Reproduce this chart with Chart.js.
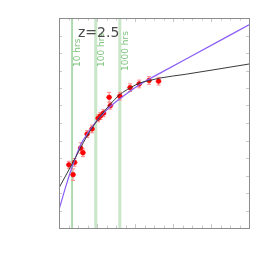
<!DOCTYPE html>
<html>
<head>
<meta charset="utf-8">
<script src="https://cdn.jsdelivr.net/npm/chart.js@4/dist/chart.umd.min.js"></script>
<style>
    html, body { margin: 0; padding: 0; background: #fff; }
    #chart { display: block; }
</style>
</head>
<body>
<canvas id="chart" width="266" height="266"></canvas>
<script>
// measured points with vertical errors
const ptX = [0.26, 0.37, 0.41, 0.57, 0.63, 0.74, 0.87, 1.03, 1.09, 1.17, 1.32, 1.35, 1.60, 1.87, 2.11, 2.37, 2.62];
const ptY = [3.61, 3.05, 3.75, 4.57, 4.30, 5.37, 5.66, 6.27, 6.40, 6.56, 7.47, 6.99, 7.53, 8.02, 8.23, 8.43, 8.39];
const ptErr = [0.2, 0.33, 0.22, 0.3, 0.22, 0.2, 0.22, 0.2, 0.2, 0.2, 0.28, 0.2, 0.22, 0.22, 0.22, 0.22, 0.22];

// black model curve
const blackX = [0, 0.335, 0.75, 1.055, 1.34, 1.6, 1.87, 2.13, 2.39, 2.66, 3.32, 5];
const blackY = [2.29, 3.62, 5.3, 6.29, 7.05, 7.62, 8.0, 8.29, 8.43, 8.57, 8.78, 9.37];

// purple model curve
const purpleX = [0, 0.18, 0.335, 0.57, 0.79, 1.055, 1.36, 1.6, 1.87, 2.13, 2.39, 2.66, 3.32, 5];
const purpleY = [1.05, 2.38, 3.43, 4.76, 5.52, 6.29, 6.96, 7.39, 7.82, 8.2, 8.53, 8.85, 9.63, 11.61];

// exposure markers
const markerX = [0.343, 0.968, 1.6];
const markerLabels = ['10 hrs', '100 hrs', '1000 hrs'];

const xMin = 0, xMax = 5, yMin = 0, yMax = 12;
const xMinorStep = 0.25, xMajorStep = 1, yStep = 1;

const toXY = (xs, ys) => xs.map((x, i) => ({ x, y: ys[i] }));

const markersPlugin = {
    id: 'markers',
    beforeDatasetsDraw(chart) {
        const { ctx, chartArea, scales } = chart;
        ctx.save();
        markerX.forEach((v, i) => {
            const px = scales.x.getPixelForValue(v);
            ctx.beginPath();
            if (i === 0) {
                ctx.strokeStyle = '#86c986';
                ctx.lineWidth = 1.3;
            } else {
                ctx.strokeStyle = '#c9e6c9';
                ctx.lineWidth = 3;
            }
            ctx.moveTo(px, chartArea.top);
            ctx.lineTo(px, chartArea.bottom);
            ctx.stroke();

            ctx.save();
            ctx.translate(px + 8, i === 2 ? 71 : 67);
            ctx.rotate(-Math.PI / 2);
            ctx.fillStyle = '#7cc27c';
            ctx.font = '9px "DejaVu Sans"';
            ctx.textAlign = 'left';
            ctx.textBaseline = 'alphabetic';
            ctx.fillText(markerLabels[i], 0, 0);
            ctx.restore();
        });

        ctx.fillStyle = '#4a4a4a';
        ctx.font = '14px "DejaVu Sans"';
        ctx.textAlign = 'left';
        ctx.textBaseline = 'alphabetic';
        ctx.fillText('z=2.5', 78, 37);
        ctx.restore();
    },
};

const errorBarsPlugin = {
    id: 'errorBars',
    beforeDatasetDraw(chart, args) {
        if (args.index !== 2) {
            return;
        }
        const { ctx, scales } = chart;
        ctx.save();
        ctx.strokeStyle = '#ff8a8a';
        ctx.lineWidth = 1;
        ptX.forEach((x, i) => {
            const px = scales.x.getPixelForValue(x);
            const top = scales.y.getPixelForValue(ptY[i] + ptErr[i]);
            const bot = scales.y.getPixelForValue(ptY[i] - ptErr[i]);
            ctx.beginPath();
            ctx.moveTo(px, top);
            ctx.lineTo(px, bot);
            ctx.moveTo(px - 2, top);
            ctx.lineTo(px + 2, top);
            ctx.moveTo(px - 2, bot);
            ctx.lineTo(px + 2, bot);
            ctx.moveTo(px - 3, scales.y.getPixelForValue(ptY[i]));
            ctx.lineTo(px + 3, scales.y.getPixelForValue(ptY[i]));
            ctx.stroke();
        });
        ctx.restore();
    },
};

const framePlugin = {
    id: 'frame',
    afterDraw(chart) {
        const { ctx, chartArea, scales } = chart;
        const { left, right, top, bottom } = chartArea;
        ctx.save();
        ctx.strokeStyle = '#c8c8c8';
        ctx.lineWidth = 1;
        ctx.beginPath();
        for (let v = xMin + xMinorStep; v < xMax; v += xMinorStep) {
            const px = Math.round(scales.x.getPixelForValue(v)) + 0.5;
            const major = Math.abs(v / xMajorStep - Math.round(v / xMajorStep)) < 1e-6;
            const len = major ? 4 : 2.5;
            ctx.moveTo(px, bottom);
            ctx.lineTo(px, bottom - len);
            ctx.moveTo(px, top);
            ctx.lineTo(px, top + len);
        }
        for (let v = yMin + yStep; v < yMax; v += yStep) {
            const py = Math.round(scales.y.getPixelForValue(v)) + 0.5;
            ctx.moveTo(left, py);
            ctx.lineTo(left + 3, py);
            ctx.moveTo(right, py);
            ctx.lineTo(right - 3, py);
        }
        ctx.stroke();

        ctx.strokeStyle = '#8c8c8c';
        ctx.strokeRect(Math.round(left) + 0.5, Math.round(top) + 0.5, Math.round(right - left), Math.round(bottom - top));
        ctx.restore();
    },
};

new Chart(document.getElementById('chart'), {
    type: 'scatter',
    data: {
        datasets: [
            {
                data: toXY(blackX, blackY),
                showLine: true,
                borderColor: '#3a3a3a',
                borderWidth: 1,
                pointRadius: 0,
                cubicInterpolationMode: 'monotone',
            },
            {
                data: toXY(purpleX, purpleY),
                showLine: true,
                borderColor: '#8a5cf5',
                borderWidth: 1.2,
                pointRadius: 0,
                cubicInterpolationMode: 'monotone',
            },
            {
                data: toXY(ptX, ptY),
                showLine: false,
                pointRadius: 2.4,
                pointBackgroundColor: '#ff0000',
                pointBorderColor: '#ee0000',
                pointBorderWidth: 0.5,
            },
        ],
    },
    options: {
        responsive: false,
        animation: false,
        layout: {
            padding: { left: 59, right: 17, top: 18, bottom: 38 },
        },
        plugins: {
            legend: { display: false },
            tooltip: { enabled: false },
        },
        scales: {
            x: { type: 'linear', min: xMin, max: xMax, display: false },
            y: { type: 'linear', min: yMin, max: yMax, display: false },
        },
    },
    plugins: [markersPlugin, errorBarsPlugin, framePlugin],
});
</script>
</body>
</html>
